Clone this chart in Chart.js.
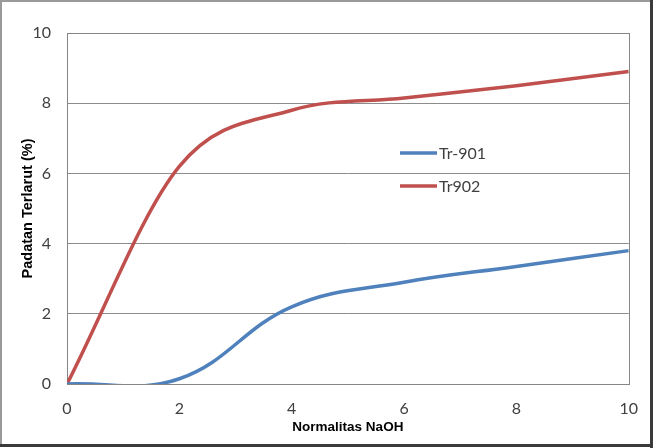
<!DOCTYPE html>
<html>
<head>
<meta charset="utf-8">
<script src="https://cdn.jsdelivr.net/npm/chart.js@4"></script>
<style>
  html, body { margin: 0; padding: 0; background: #fff; }
  #wrap { width: 653px; height: 448px; position: relative; }
</style>
</head>
<body>
<div id="wrap"><canvas id="chart" width="653" height="448"></canvas></div>
<script>
const normalitas = [0, 2, 4, 6, 8, 10];
const tr901 = [0, 0.15, 2.2, 2.9, 3.35, 3.8];
const tr902 = [0, 6.2, 7.8, 8.15, 8.5, 8.9];
const seriesNames = ['Tr-901', 'Tr902'];
const seriesColors = ['#4F81BD', '#C0504D'];

const toPoints = (ys) => normalitas.map((x, i) => ({ x: x, y: ys[i] }));

// frame round the whole picture, like the pasted Excel chart
const framePlugin = {
  id: 'frame',
  afterDraw(chart) {
    const ctx = chart.ctx;
    ctx.save();
    ctx.strokeStyle = '#9a9a9a';
    ctx.lineWidth = 2;
    ctx.strokeRect(1, 1, 650, 444);
    ctx.strokeStyle = '#3a3a3a';
    ctx.lineWidth = 3;
    ctx.beginPath();
    ctx.moveTo(0, 445.5);
    ctx.lineTo(652, 445.5);
    ctx.moveTo(651.5, 0);
    ctx.lineTo(651.5, 448);
    ctx.stroke();
    ctx.restore();
  }
};

// legend sits inside the plot area
const innerLegend = {
  id: 'innerLegend',
  afterDatasetsDraw(chart) {
    const ctx = chart.ctx;
    const rows = [153, 186];
    ctx.save();
    chart.data.datasets.forEach((ds, i) => {
      ctx.strokeStyle = ds.borderColor;
      ctx.lineWidth = 3.5;
      ctx.beginPath();
      ctx.moveTo(400, rows[i]);
      ctx.lineTo(437, rows[i]);
      ctx.stroke();
      ctx.fillStyle = '#404040';
      ctx.font = '16px Lato';
      ctx.textBaseline = 'middle';
      ctx.fillText(ds.label, 439, rows[i] + 1);
    });
    ctx.restore();
  }
};

new Chart(document.getElementById('chart'), {
  type: 'line',
  data: {
    datasets: [
      { label: seriesNames[0], data: toPoints(tr901), borderColor: seriesColors[0], borderWidth: 3.5, pointRadius: 0, tension: 0.4, fill: false },
      { label: seriesNames[1], data: toPoints(tr902), borderColor: seriesColors[1], borderWidth: 3.5, pointRadius: 0, cubicInterpolationMode: 'monotone', fill: false }
    ]
  },
  options: {
    responsive: false,
    animation: false,
    elements: { line: { capBezierPoints: false } },
    layout: { padding: { left: 8, top: 33, right: 24, bottom: 4 } },
    plugins: {
      legend: { display: false },
      tooltip: { enabled: false }
    },
    scales: {
      x: {
        type: 'linear',
        min: 0,
        max: 10,
        afterFit: (s) => { s.height = 60; },
        ticks: { stepSize: 2, padding: 15, color: '#404040', font: { family: 'Lato', size: 16 } },
        grid: { display: false, drawTicks: false },
        border: { display: true, color: '#868686', width: 1 },
        title: { display: true, text: 'Normalitas NaOH', color: '#000', padding: { top: 0, bottom: 9 }, font: { family: 'Liberation Sans', size: 13.5, weight: 'bold' } }
      },
      y: {
        min: 0,
        max: 10,
        afterFit: (s) => { s.width = 59; },
        ticks: { stepSize: 2, padding: 16, color: '#404040', font: { family: 'Lato', size: 16 } },
        grid: { color: '#8c8c8c', drawTicks: false },
        border: { display: true, color: '#868686', width: 1 },
        title: { display: true, text: 'Padatan Terlarut (%)', color: '#000', padding: { top: 11, bottom: 0 }, font: { family: 'Liberation Sans', size: 14.5, weight: 'bold' } }
      }
    }
  },
  plugins: [innerLegend, framePlugin, {
    id: 'plotBorder',
    beforeDatasetsDraw(chart) {
      const a = chart.chartArea;
      const ctx = chart.ctx;
      ctx.save();
      ctx.strokeStyle = '#868686';
      ctx.lineWidth = 1;
      ctx.strokeRect(Math.round(a.left) + 0.5, Math.round(a.top) + 0.5, Math.round(a.right - a.left), Math.round(a.bottom - a.top));
      ctx.restore();
    }
  }]
});
</script>
</body>
</html>
